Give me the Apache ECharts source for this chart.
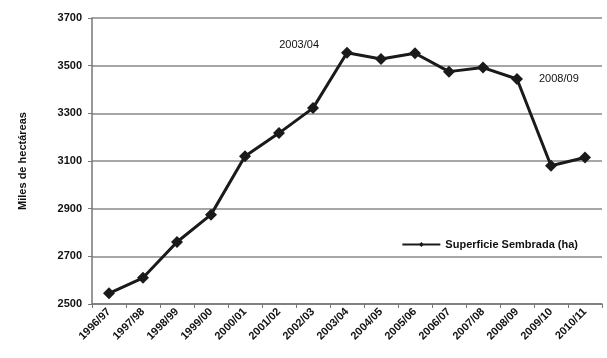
<!DOCTYPE html>
<html><head><meta charset="utf-8">
<script src="https://cdn.jsdelivr.net/npm/echarts@6/dist/echarts.min.js"></script>
<style>html,body{margin:0;padding:0;background:#fff}#c{width:607px;height:358px}</style>
</head><body><div id="c"></div>
<script>
const categories = ['1996/97','1997/98','1998/99','1999/00','2000/01','2001/02','2002/03','2003/04','2004/05','2005/06','2006/07','2007/08','2008/09','2009/10','2010/11'];
const superficie = [2545, 2610, 2760, 2875, 3120, 3217, 3322, 3554, 3528, 3552, 3475, 3492, 3444, 3080, 3115];
const yTicks = [2500, 2700, 2900, 3100, 3300, 3500, 3700];
const seriesName = 'Superficie Sembrada (ha)';
const annotated = {'2003/04': 'left', '2008/09': 'right'};

const chart = echarts.init(document.getElementById('c'));
const data = superficie.map((v, i) => {
  const pos = annotated[categories[i]];
  if (!pos) return v;
  return {
    value: v,
    label: {
      show: true,
      formatter: categories[i],
      position: pos,
      distance: pos === 'left' ? 22 : 16,
      offset: pos === 'left' ? [0, -8] : [0, 0],
      color: '#111', fontSize: 11, fontFamily: 'Liberation Sans'
    }
  };
});
chart.setOption({
  animation: false,
  grid: {left: 92, right: 5, top: 18, bottom: 54, containLabel: false},
  legend: {
    data: [seriesName], right: 24, top: 234, itemWidth: 38, itemHeight: 6, itemGap: 2,
    textStyle: {fontSize: 11, fontWeight: 'bold', color: '#111', fontFamily: 'Liberation Sans'}
  },
  xAxis: {
    type: 'category', data: categories, boundaryGap: true,
    axisLine: {lineStyle: {color: '#777', width: 1.5}},
    axisTick: {show: true, alignWithLabel: false, length: 4, lineStyle: {color: '#777'}},
    axisLabel: {rotate: 45, interval: 0, margin: 6, fontSize: 11, fontWeight: 'bold', color: '#111', fontFamily: 'Liberation Sans'}
  },
  yAxis: {
    type: 'value', min: yTicks[0], max: yTicks[yTicks.length - 1], interval: 200,
    name: 'Miles de hectáreas', nameLocation: 'middle', nameGap: 64,
    nameTextStyle: {fontSize: 11, fontWeight: 'bold', color: '#111', fontFamily: 'Liberation Sans'},
    axisLine: {show: true, lineStyle: {color: '#777', width: 1.5}},
    axisTick: {show: true, length: 4, lineStyle: {color: '#777'}},
    axisLabel: {formatter: v => String(v), fontSize: 11, fontWeight: 'bold', color: '#111', margin: 10, fontFamily: 'Liberation Sans'},
    splitLine: {lineStyle: {color: '#888', width: 1.5}}
  },
  series: [{
    name: seriesName, type: 'line', data: data,
    symbol: 'diamond', symbolSize: 12,
    lineStyle: {color: '#1a1a1a', width: 3},
    itemStyle: {color: '#1a1a1a'}
  }]
});
</script></body></html>
